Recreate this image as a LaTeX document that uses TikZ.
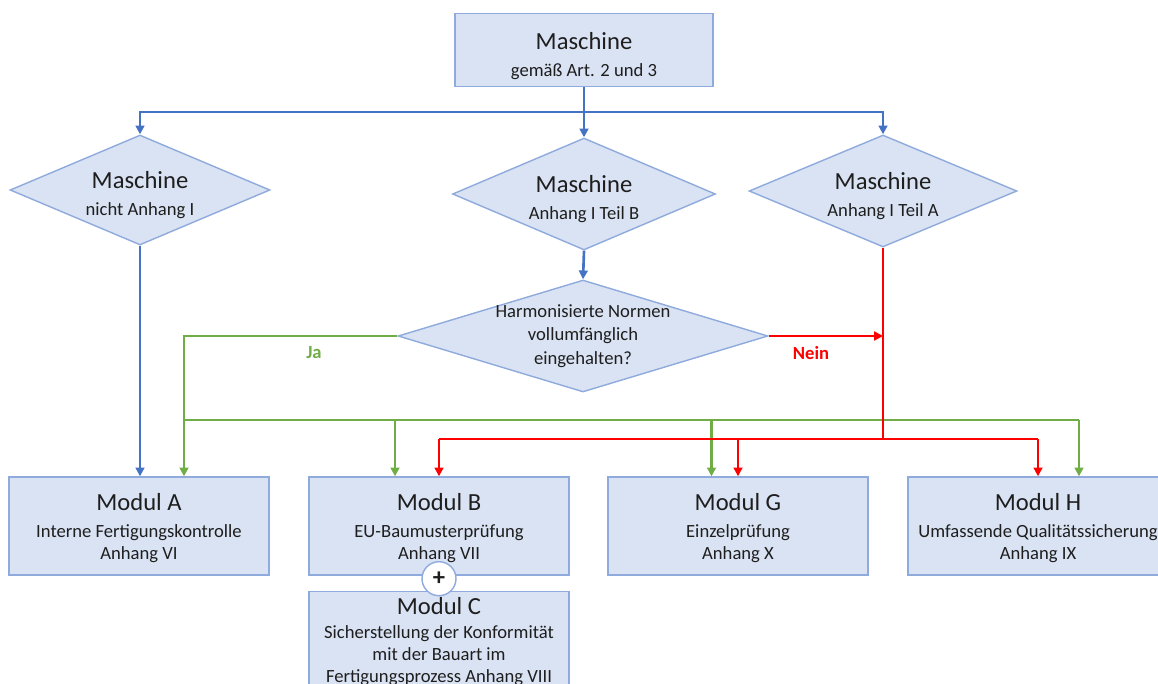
\documentclass[tikz,border=0pt]{standalone}
\usepackage{fontspec}
\setmainfont{Carlito}
\usetikzlibrary{positioning, shapes.geometric, arrows.meta}
\definecolor{boxbg}{RGB}{218,227,243}
\definecolor{bordercol}{RGB}{143,170,220}
\definecolor{flowblue}{RGB}{68,114,196}
\definecolor{flowgreen}{RGB}{112,173,71}
\definecolor{flowred}{RGB}{255,0,0}
\definecolor{textcol}{RGB}{30,30,30}

\newcommand{\boxtitle}[1]{{\fontsize{14}{17}\selectfont #1}}

\begin{document}
\begin{tikzpicture}[
    x=0.02cm, y=-0.02cm,
    box/.style={
        rectangle,
        draw=bordercol,
        fill=boxbg,
        line width=0.8pt,
        minimum width=5.2cm,
        minimum height=1.96cm,
        align=center,
        inner sep=2pt,
        text=textcol,
        font=\fontsize{10.6}{12.5}\selectfont
    },
    dia/.style={
        diamond,
        draw=bordercol,
        fill=boxbg,
        line width=0.8pt,
        inner sep=0pt,
        minimum width=5.2cm,
        minimum height=2.2cm
    },
    diatext/.style={align=center, text=textcol, font=\fontsize{10.6}{12.5}\selectfont},
    dialabel/.style={label={[diatext, yshift=-0.1cm]center:#1}},
    plussign/.style={circle, draw=bordercol, fill=white, line width=0.8pt,
        minimum size=0.68cm, inner sep=0pt, text=textcol,
        font=\bfseries\fontsize{14}{14}\selectfont},
    blueline/.style={draw=flowblue, line width=1.5pt},
    greenline/.style={draw=flowgreen, line width=1.4pt},
    redline/.style={draw=flowred, line width=1.4pt},
    tip/.style={-{Triangle[length=5pt,width=5pt]}},
    answer/.style={font=\bfseries\fontsize{10.6}{12.5}\selectfont}
]

\useasboundingbox (0,0) rectangle (1158,683);
\clip (0,0) rectangle (1158,683);

% Machine
\node[box, minimum width=5.16cm, minimum height=1.46cm] (masch) at (584,50)
    {\rule{0pt}{17pt}\boxtitle{Maschine}\\[3pt]gemäß Art. 2 und 3};

% Machine categories
\node[dia, dialabel={\boxtitle{Maschine}\\[3pt]nicht Anhang I}] (nanh) at (140,190) {};
\node[dia, minimum width=5.26cm, minimum height=2.24cm,
    dialabel={\boxtitle{Maschine}\\[3pt]Anhang I Teil B}] (teilb) at (584,194) {};
\node[dia, minimum width=5.36cm, minimum height=2.24cm,
    dialabel={\boxtitle{Maschine}\\[3pt]Anhang I Teil A}] (teila) at (883,191) {};

% Harmonised standards question
\node[dia, minimum width=7.4cm, minimum height=2.24cm,
    label={[diatext]center:Harmonisierte Normen\\[1pt]vollumfänglich\\[1pt]eingehalten?}]
    (normen) at (583,336) {};

% Modules
\node[box] (moda) at (139,526) {\rule{0pt}{12pt}\boxtitle{Modul A}\\[3pt]Interne Fertigungskontrolle\\Anhang VI};
\node[box] (modb) at (439,526) {\rule{0pt}{12pt}\boxtitle{Modul B}\\[3pt]EU-Baumusterprüfung\\Anhang VII};
\node[box] (modg) at (738,526) {\rule{0pt}{12pt}\boxtitle{Modul G}\\[3pt]Einzelprüfung\\Anhang X};
\node[box] (modh) at (1038,526) {\rule{0pt}{12pt}\boxtitle{Modul H}\\[3pt]Umfassende Qualitätssicherung\\Anhang IX};
\node[box, below=0.3cm of modb, minimum height=2cm] (modc)
    {\boxtitle{Modul C}\\[1pt]Sicherstellung der Konformität\\mit der Bauart im\\Fertigungsprozess Anhang VIII};
\node[plussign, yshift=-0.06cm] (plus) at (modb.south) {+};

% Answers
\node[answer, text=flowgreen] (ja) at (314,353) {Ja};
\node[answer, text=flowred] (nein) at (811,353) {Nein};

% Bus lines and drop points
\coordinate (split) at (584,112);
\coordinate (gbus) at (0,420);
\coordinate (rbus) at (0,439);
\coordinate (ga) at ([xshift=0.9cm]moda.north);
\coordinate (gb) at ([xshift=-0.88cm]modb.north);
\coordinate (gg) at ([xshift=-0.53cm]modg.north);
\coordinate (gh) at ([xshift=0.82cm]modh.north);

% Blue flow
\draw[blueline, tip] (masch.south) -- (teilb.north);
\draw[blueline, tip] (split) -| (nanh.north);
\draw[blueline, tip] (split) -| (teila.north);
\draw[blueline, tip] (teilb.south) -- (normen.north);
\draw[blueline, tip] (nanh.south) -- (nanh.south |- moda.north);

% Green flow (Ja)
\draw[greenline, tip] (normen.west) -| (ga);
\draw[greenline] (ga |- gbus) -- (gh |- gbus);
\draw[greenline, tip] (gb |- gbus) -- (gb);
\draw[greenline, tip] (gg |- gbus) -- (gg);
\draw[greenline, tip] (gh |- gbus) -- (gh);

% Red flow (Nein)
\draw[redline, tip] (normen.east) -- (normen.east -| teila.south);
\draw[redline] (teila.south) -- (teila.south |- rbus);
\draw[redline] (modb.north |- rbus) -- (modh.north |- rbus);
\draw[redline, tip] (modb.north |- rbus) -- (modb.north);
\draw[redline, tip] (modg.north |- rbus) -- (modg.north);
\draw[redline, tip] (modh.north |- rbus) -- (modh.north);

\end{tikzpicture}
\end{document}
